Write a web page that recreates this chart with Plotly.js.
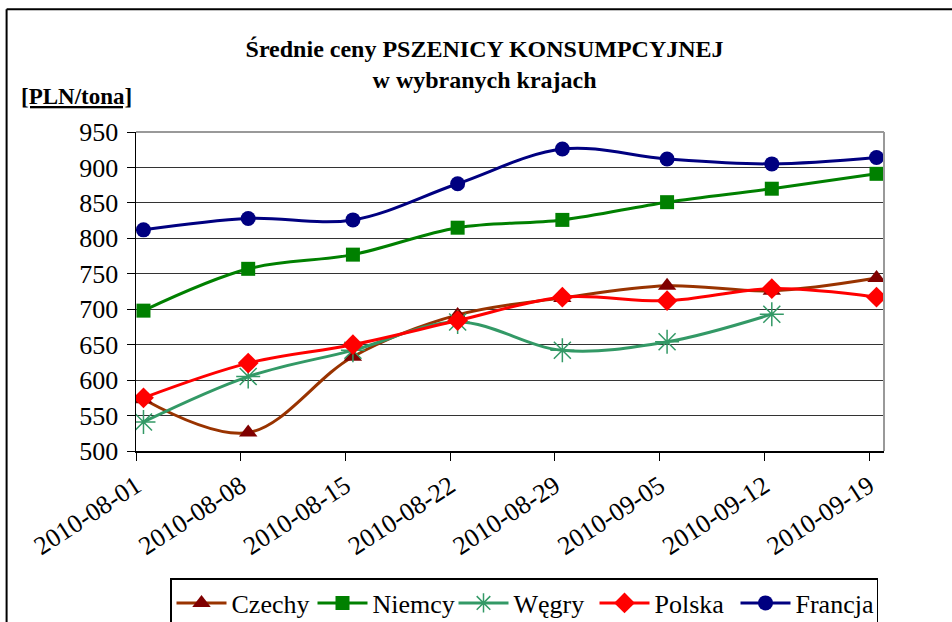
<!DOCTYPE html>
<html>
<head>
<meta charset="utf-8">
<script src="https://cdn.plot.ly/plotly-3.0.1.min.js"></script>
<style>
html,body{margin:0;padding:0;background:#fff;}
#chart{width:952px;height:622px;}
#chart svg text, #chart svg tspan { font-family: 'Liberation Serif', 'Times New Roman', serif !important; }
</style>
</head>
<body>
<div id="chart"></div>
<script>
// ---- data ----
const dates = ['2010-08-01','2010-08-08','2010-08-15','2010-08-22','2010-08-29','2010-09-05','2010-09-12','2010-09-19'];
const czechy  = [573, 526, 633, 692, 716, 733, 726, 744];
const niemcy  = [698, 757, 777, 815, 826, 851, 870, 891];
const wegry   = [541, 605, 642, 682, 642, 654, 693, null];
const polska  = [575, 624, 650, 684, 717, 712, 729, 717];
const francja = [812, 828, 826, 877, 926, 912, 905, 914];
const seriesNames = ['Czechy','Niemcy','Węgry','Polska','Francja'];
const yTicks = [500, 550, 600, 650, 700, 750, 800, 850, 900, 950];

const FONT = 'Liberation Serif';
const INK = '#000';

function tr(name, y, lineColor, symbol, mColor, mSize, mLine) {
  return {
    type: 'scatter', mode: 'lines+markers', name: name,
    x: dates, y: y,
    xperiod: 86400000, xperiodalignment: 'middle',
    line: {color: lineColor, width: 3, shape: 'spline', smoothing: 1},
    marker: {symbol: symbol, color: mColor, size: mSize, line: mLine || {width: 0}},
    connectgaps: false
  };
}

const data = [
  tr(seriesNames[0], czechy, '#993300', 'triangle-up', '#800000', 16),
  tr(seriesNames[1], niemcy, '#008000', 'square', '#008000', 14),
  tr(seriesNames[2], wegry, '#339966', 'asterisk-open', '#339966', 20, {color: '#339966', width: 1.5}),
  tr(seriesNames[3], polska, '#FF0000', 'diamond', '#FF0000', 16),
  tr(seriesNames[4], francja, '#000080', 'circle', '#000080', 15)
];

const layout = {
  width: 952, height: 622,
  margin: {l: 136, r: 68, t: 132, b: 171, pad: 0},
  paper_bgcolor: '#fff', plot_bgcolor: '#fff',
  font: {family: FONT, color: INK, size: 26},
  showlegend: true,
  title: {
    text: '<b>Średnie ceny PSZENICY KONSUMPCYJNEJ<br>w wybranych krajach</b>',
    font: {family: FONT, size: 24, color: INK},
    xref: 'container', x: 0.509, xanchor: 'center',
    yref: 'container', y: 0.908, yanchor: 'top'
  },
  xaxis: {
    type: 'date',
    range: ['2010-08-01', '2010-09-20'],
    tick0: '2010-08-01', dtick: 604800000,
    tickformat: '%Y-%m-%d',
    tickangle: -33,
    ticks: 'outside', ticklen: 8, tickcolor: '#000', tickwidth: 1,
    showline: true, linecolor: '#000', linewidth: 1.5,
    showgrid: false, zeroline: false,
    tickfont: {family: FONT, size: 26, color: INK},
    automargin: false,
    fixedrange: true
  },
  yaxis: {
    range: [500, 950],
    tickvals: yTicks,
    ticks: 'outside', ticklen: 8, tickcolor: '#000', tickwidth: 1,
    showline: true, linecolor: '#000', linewidth: 1.5,
    showgrid: true, gridcolor: '#333', gridwidth: 1,
    zeroline: false,
    tickfont: {family: FONT, size: 26, color: INK},
    ticklabelstandoff: 3,
    automargin: false,
    fixedrange: true
  },
  legend: {
    orientation: 'h',
    xref: 'container', yref: 'container',
    x: 170 / 952, xanchor: 'left',
    y: 1 - 578 / 622, yanchor: 'top',
    bordercolor: '#000', borderwidth: 1.5, bgcolor: '#fff',
    font: {family: FONT, size: 26, color: INK},
    entrywidth: 76, entrywidthmode: 'pixels',
    itemwidth: 50,
    traceorder: 'normal'
  },
  annotations: [{
    text: '<b><u>[PLN/tona]</u></b>',
    xref: 'paper', yref: 'paper',
    x: -0.157, xanchor: 'left',
    y: 1.11, yanchor: 'middle',
    showarrow: false,
    font: {family: FONT, size: 23, color: INK}
  }],
  shapes: [
    {type: 'line', xref: 'paper', yref: 'paper', x0: 0, x1: 1, y0: 1, y1: 1, line: {color: '#999', width: 2}},
    {type: 'line', xref: 'paper', yref: 'paper', x0: 1, x1: 1, y0: 0, y1: 1, line: {color: '#999', width: 2}},
    {type: 'line', xref: 'paper', yref: 'paper', x0: -0.173, x1: -0.173, y0: -0.6, y1: 1.385, line: {color: '#000', width: 2}},
    {type: 'line', xref: 'paper', yref: 'paper', x0: -0.173, x1: 1.2, y0: 1.385, y1: 1.385, line: {color: '#000', width: 2}}
  ]
};

Plotly.newPlot('chart', data, layout, {displayModeBar: false, staticPlot: true});
</script>
</body>
</html>
